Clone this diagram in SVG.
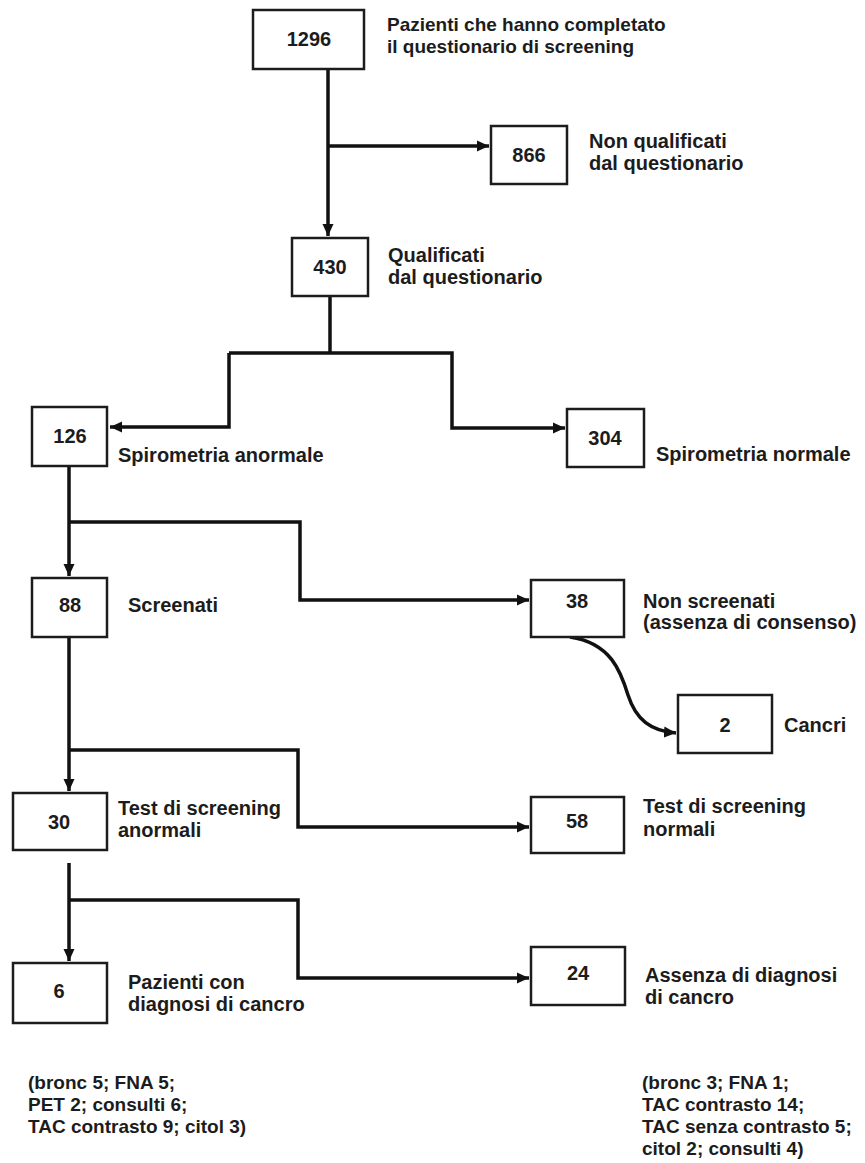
<svg xmlns="http://www.w3.org/2000/svg" width="865" height="1163" viewBox="0 0 865 1163">
<style>
.box{fill:#fff;stroke:#1c1c1c;stroke-width:2.5}
.num{font-family:"Liberation Sans",Arial,sans-serif;font-weight:bold;font-size:20px;fill:#1c1c1c;text-anchor:middle}
.lbl{font-family:"Liberation Sans",Arial,sans-serif;font-weight:bold;font-size:20px;fill:#1c1c1c}
.top{font-size:19px}
.note{font-family:"Liberation Sans",Arial,sans-serif;font-weight:bold;font-size:19px;fill:#1c1c1c}
.con{fill:none;stroke:#111;stroke-width:3.5}
</style>
<defs>
<marker id="ah" markerUnits="userSpaceOnUse" markerWidth="14" markerHeight="12" refX="12" refY="6" orient="auto">
<path d="M0,0.5 L12,6 L0,11.5 Z" fill="#111"/>
</marker>
</defs>
<rect width="865" height="1163" fill="#fff"/>
<g id="connectors">
<path class="con" d="M328,69 V236" marker-end="url(#ah)"/>
<path class="con" d="M328,146 H489" marker-end="url(#ah)"/>
<path class="con" d="M330,296 V353"/>
<path class="con" d="M229,353 V427 H110" marker-end="url(#ah)"/>
<path class="con" d="M229,353 H452 V428 H565" marker-end="url(#ah)"/>
<path class="con" d="M69,466 V576" marker-end="url(#ah)"/>
<path class="con" d="M69,522 H300 V600 H529" marker-end="url(#ah)"/>
<path class="con" d="M570,637 C611,643 621,672 628,695 C636,720 651,731 676,733" marker-end="url(#ah)"/>
<path class="con" d="M69,637 V791" marker-end="url(#ah)"/>
<path class="con" d="M69,750 H298 V827 H529" marker-end="url(#ah)"/>
<path class="con" d="M69,863 V961" marker-end="url(#ah)"/>
<path class="con" d="M69,900 H298 V978 H529" marker-end="url(#ah)"/>
</g>
<g id="n1296"><rect class="box" x="253" y="10" width="111" height="59"/><text class="num" x="309" y="46">1296</text>
<text class="lbl top" x="387" y="31">Pazienti che hanno completato</text><text class="lbl top" x="387" y="53">il questionario di screening</text></g>
<g id="n866"><rect class="box" x="491" y="126" width="76" height="58"/><text class="num" x="529" y="162">866</text>
<text class="lbl" x="589" y="148">Non qualificati</text><text class="lbl" x="589" y="170">dal questionario</text></g>
<g id="n430"><rect class="box" x="292" y="238" width="76" height="58"/><text class="num" x="330" y="274">430</text>
<text class="lbl" x="388" y="262">Qualificati</text><text class="lbl" x="388" y="284">dal questionario</text></g>
<g id="n126"><rect class="box" x="32" y="407" width="75" height="59"/><text class="num" x="70" y="443">126</text>
<text class="lbl" x="118" y="462">Spirometria anormale</text></g>
<g id="n304"><rect class="box" x="567" y="409" width="77" height="58"/><text class="num" x="605" y="445">304</text>
<text class="lbl" x="656" y="461">Spirometria normale</text></g>
<g id="n88"><rect class="box" x="32" y="578" width="75" height="59"/><text class="num" x="70" y="612">88</text>
<text class="lbl" x="128" y="612">Screenati</text></g>
<g id="n38"><rect class="box" x="531" y="580" width="93" height="57"/><text class="num" x="577" y="608">38</text>
<text class="lbl" x="643" y="608">Non screenati</text><text class="lbl" x="643" y="629">(assenza di consenso)</text></g>
<g id="n2"><rect class="box" x="678" y="695" width="94" height="58"/><text class="num" x="725" y="732">2</text>
<text class="lbl" x="784" y="732">Cancri</text></g>
<g id="n30"><rect class="box" x="13" y="793" width="94" height="57"/><text class="num" x="59" y="829">30</text>
<text class="lbl" x="118" y="815">Test di screening</text><text class="lbl" x="118" y="837">anormali</text></g>
<g id="n58"><rect class="box" x="531" y="797" width="93" height="56"/><text class="num" x="577" y="828">58</text>
<text class="lbl" x="643" y="813">Test di screening</text><text class="lbl" x="643" y="836">normali</text></g>
<g id="n6"><rect class="box" x="13" y="963" width="94" height="60"/><text class="num" x="59" y="998">6</text>
<text class="lbl" x="128" y="989">Pazienti con</text><text class="lbl" x="128" y="1011">diagnosi di cancro</text></g>
<g id="n24"><rect class="box" x="531" y="947" width="94" height="58"/><text class="num" x="578" y="980">24</text>
<text class="lbl" x="645" y="982">Assenza di diagnosi</text><text class="lbl" x="645" y="1004">di cancro</text></g>
<g id="notes-left"><text class="note" x="28" y="1089">(bronc 5; FNA 5;</text><text class="note" x="28" y="1111">PET 2; consulti 6;</text><text class="note" x="28" y="1133">TAC contrasto 9; citol 3)</text></g>
<g id="notes-right"><text class="note" x="642" y="1089">(bronc 3; FNA 1;</text><text class="note" x="642" y="1111">TAC contrasto 14;</text><text class="note" x="642" y="1133">TAC senza contrasto 5;</text><text class="note" x="642" y="1155">citol 2; consulti 4)</text></g>
</svg>
